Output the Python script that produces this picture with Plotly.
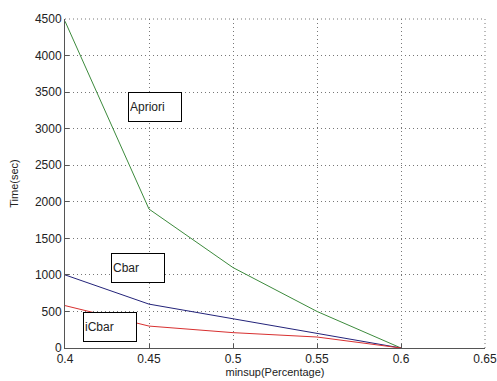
import plotly.graph_objects as go

minsup = [0.4, 0.45, 0.5, 0.55, 0.6]
apriori = [4470, 1900, 1100, 500, 0]
cbar = [1000, 600, 400, 200, 0]
icbar = [580, 300, 210, 150, 0]
xtick_vals = [0.4, 0.45, 0.5, 0.55, 0.6, 0.65]
xtick_text = ["0.4", "0.45", "0.5", "0.55", "0.6", "0.65"]

fig = go.Figure()
fig.add_trace(go.Scatter(x=minsup, y=apriori, mode="lines", line=dict(color="#3c8a3c", width=1), name="Apriori"))
fig.add_trace(go.Scatter(x=minsup, y=cbar, mode="lines", line=dict(color="#23237a", width=1), name="Cbar"))
fig.add_trace(go.Scatter(x=minsup, y=icbar, mode="lines", line=dict(color="#d83030", width=1), name="iCbar"))

font = dict(family="Arial, Liberation Sans, sans-serif", size=12, color="#222")

boxes = [("Apriori", 0.4533, 3296), ("Cbar", 0.4435, 1094), ("iCbar", 0.4265, 287)]
for txt, bx, by in boxes:
    fig.add_annotation(x=bx, y=by, xref="x", yref="y", text=txt, showarrow=False,
                       width=50, height=26, align="left", valign="middle",
                       bordercolor="#000", borderwidth=1, borderpad=1,
                       bgcolor="white", font=font)

dash = "1px,3px"
# dotted top and right frame lines
fig.add_shape(type="line", xref="paper", yref="paper", x0=0, x1=1, y0=1, y1=1,
              line=dict(color="#777", width=1, dash=dash))
fig.add_shape(type="line", xref="paper", yref="paper", x0=1, x1=1, y0=0, y1=1,
              line=dict(color="#777", width=1, dash=dash))

fig.update_layout(
    width=497, height=381,
    margin=dict(l=65, r=12, t=19, b=33, autoexpand=False),
    paper_bgcolor="white", plot_bgcolor="white",
    showlegend=False, font=font,
    xaxis=dict(range=[0.4, 0.6500001], tickvals=xtick_vals, ticktext=xtick_text,
               ticklabeloverflow="allow",
               showgrid=True, gridcolor="#777", griddash=dash, gridwidth=1,
               showline=True, linecolor="#555", linewidth=1, automargin=False,
               ticks="inside", ticklen=4, tickcolor="#555", zeroline=False,
               title=dict(text="minsup(Percentage)", standoff=2, font=dict(size=11))),
    yaxis=dict(range=[0, 4500], tickvals=list(range(0, 4501, 500)),
               showgrid=True, gridcolor="#777", griddash=dash, gridwidth=1,
               showline=True, linecolor="#555", linewidth=1, automargin=False,
               ticks="inside", ticklen=4, tickcolor="#555", zeroline=False,
               title=dict(text="Time(sec)", standoff=14, font=dict(size=11))),
)

fig.write_html("out.html", config={"displayModeBar": False},
               post_script="document.body.style.margin='0';document.body.style.overflow='hidden';")
